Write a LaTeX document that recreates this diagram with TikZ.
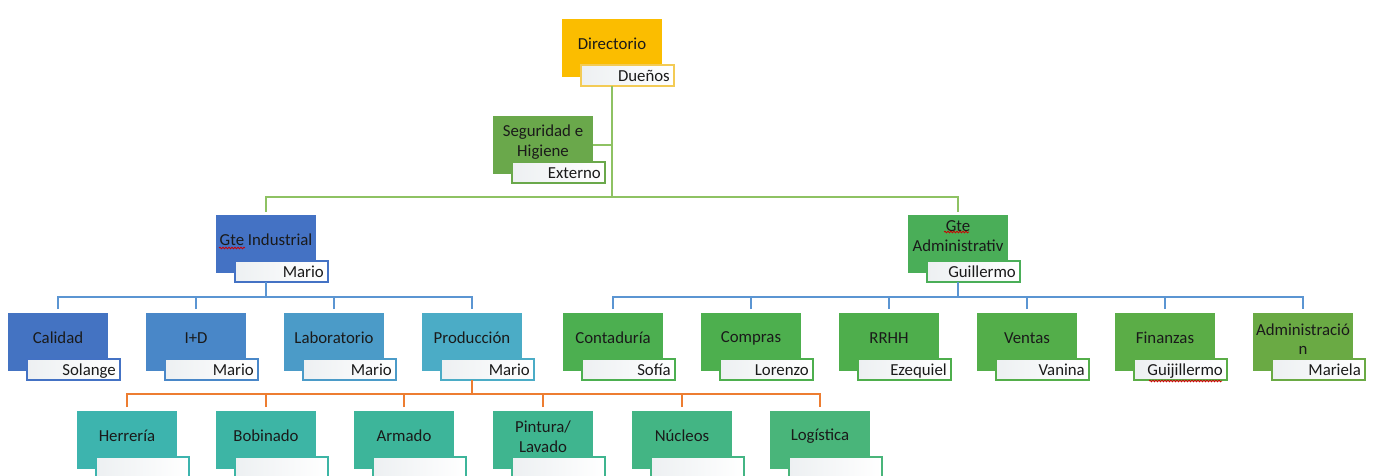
\documentclass[tikz,border=0pt]{standalone}
\usepackage{fontspec}
\setmainfont{Carlito}
\usetikzlibrary{decorations.pathmorphing}
\definecolor{txt}{HTML}{1A1A1A}
\definecolor{subgray}{HTML}{EDF0F2}
\definecolor{cDir}{HTML}{FBBD00}
\definecolor{bDir}{HTML}{F3CB55}
\definecolor{cSeg}{HTML}{6AA84B}
\definecolor{cGI}{HTML}{4472C4}
\definecolor{cCal}{HTML}{4473C2}
\definecolor{cID}{HTML}{4987C8}
\definecolor{cLab}{HTML}{4B9BC8}
\definecolor{cPro}{HTML}{4BACC6}
\definecolor{cHer}{HTML}{3DB4AE}
\definecolor{cBob}{HTML}{3DB5A5}
\definecolor{cArm}{HTML}{3DB59A}
\definecolor{cPin}{HTML}{3FB58F}
\definecolor{cNuc}{HTML}{43B584}
\definecolor{cLog}{HTML}{49B57A}
\definecolor{cGA}{HTML}{4AAE58}
\definecolor{cCon}{HTML}{4CAF50}
\definecolor{cCom}{HTML}{4DAF4E}
\definecolor{cRRH}{HTML}{4EAE4C}
\definecolor{cVen}{HTML}{53AE4A}
\definecolor{cFin}{HTML}{5BAD47}
\definecolor{cAdm}{HTML}{6AAA44}
\definecolor{lgreen}{HTML}{8EC263}
\definecolor{lblue}{HTML}{5B95D2}
\definecolor{lorange}{HTML}{ED7D31}
\newcommand\orgbox[8]{%
  \node[mainbox, fill=#4] (#1) at (#2,#3) {};
  \node[boxlabel] (#1-t) at (#2+50,#3+#8) {#6};
  \node[subbox=#5] (#1-s) at (#2+19,#3+46) {};
  \node[namelabel] (#1-n) at (#2+108,#3+62.5) {#7};
}
\begin{document}
\begin{tikzpicture}[x=1pt,y=-1pt,
  mainbox/.style={draw=none, minimum width=100pt, minimum height=58pt, anchor=north west, inner sep=0pt, outer sep=0pt},
  subbox/.style={draw=#1, line width=1.8pt, left color=subgray, right color=white, minimum width=93pt, minimum height=21pt, anchor=north west, inner sep=0pt, outer sep=0pt},
  boxlabel/.style={font=\fontsize{16.8}{19.5}\selectfont, text=txt, align=center, inner sep=0pt},
  namelabel/.style={font=\fontsize{16.8}{19.5}\selectfont, text=txt, anchor=base east, inner sep=0pt},
  gline/.style={draw=lgreen, line width=2.7pt},
  bline/.style={draw=lblue, line width=2.7pt},
  oline/.style={draw=lorange, line width=2.7pt},
  squig/.style={draw=red!80!black, line width=0.8pt, decorate, decoration={snake, segment length=3pt, amplitude=0.8pt}}]
\useasboundingbox (0,0) rectangle (1374,476);
% top
\orgbox{dir}{562}{19}{cDir}{bDir}{Directorio}{Dueños}{25}
\orgbox{seg}{493}{116}{cSeg}{cSeg}{Seguridad e\\Higiene}{Externo}{26}
% managers
\orgbox{gi}{216}{215}{cGI}{cGI}{Gte Industrial}{Mario}{25}
\orgbox{ga}{908}{215}{cGA}{cGA}{Gte\\Administrativ\\o}{Guillermo}{31}
% industrial row
\orgbox{cal}{8}{313}{cCal}{cGI}{Calidad}{Solange}{25}
\orgbox{id}{146}{313}{cID}{cID}{I+D}{Mario}{25}
\orgbox{lab}{284}{313}{cLab}{cLab}{Laboratorio}{Mario}{25}
\orgbox{pro}{422}{313}{cPro}{cPro}{Producción}{Mario}{25}
% administrative row
\orgbox{con}{563}{313}{cCon}{cCon}{Contaduría}{Sofía}{25}
\orgbox{com}{701}{313}{cCom}{cCom}{Compras}{Lorenzo}{25}
\orgbox{rrh}{839}{313}{cRRH}{cRRH}{RRHH}{Ezequiel}{25}
\orgbox{ven}{977}{313}{cVen}{cVen}{Ventas}{Vanina}{25}
\orgbox{fin}{1115}{313}{cFin}{cFin}{Finanzas}{Guijillermo}{25}
\orgbox{adm}{1253}{313}{cAdm}{cAdm}{Administració\\n}{Mariela}{26}
% production row
\orgbox{her}{77}{411}{cHer}{cHer}{Herrería}{}{25}
\orgbox{bob}{216}{411}{cBob}{cBob}{Bobinado}{}{25}
\orgbox{arm}{354}{411}{cArm}{cArm}{Armado}{}{25}
\orgbox{pin}{493}{411}{cPin}{cPin}{Pintura/\\Lavado}{}{25.5}
\orgbox{nuc}{632}{411}{cNuc}{cNuc}{Núcleos}{}{25}
\orgbox{log}{770}{411}{cLog}{cLog}{Logística}{}{25}
% junctions
\coordinate (j0) at (612,197);
\coordinate (j1) at (266,297);
\coordinate (j2) at (958,297);
\coordinate (j3) at (472,394);
% green connectors
\draw[gline] (dir-s.south -| dir.center) -- (j0);
\draw[gline] (seg.east) -- (seg.east -| j0);
\draw[gline, shorten <=3pt, shorten >=3pt] (gi.north) |- (j0) -| (ga.north);
% blue connectors (industrial)
\draw[bline] (gi-s.south -| gi.center) -- (j1);
\draw[bline, shorten <=4pt, shorten >=4pt] (cal.north) |- (j1) -| (pro.north);
\draw[bline, shorten <=4pt] (id.north) -- (id.north |- j1);
\draw[bline, shorten <=4pt] (lab.north) -- (lab.north |- j1);
% blue connectors (administrative)
\draw[bline] (ga-s.south -| ga.center) -- (j2);
\draw[bline, shorten <=4pt, shorten >=4pt] (con.north) |- (j2) -| (adm.north);
\draw[bline, shorten <=4pt] (com.north) -- (com.north |- j2);
\draw[bline, shorten <=4pt] (rrh.north) -- (rrh.north |- j2);
\draw[bline, shorten <=4pt] (ven.north) -- (ven.north |- j2);
\draw[bline, shorten <=4pt] (fin.north) -- (fin.north |- j2);
% orange connectors (production)
\draw[oline] (pro-s.south -| pro.center) -- (j3);
\draw[oline, shorten <=4pt, shorten >=4pt] (her.north) |- (j3) -| (log.north);
\draw[oline, shorten <=4pt] (bob.north) -- (bob.north |- j3);
\draw[oline, shorten <=4pt] (arm.north) -- (arm.north |- j3);
\draw[oline, shorten <=4pt] (pin.north) -- (pin.north |- j3);
\draw[oline, shorten <=4pt] (nuc.north) -- (nuc.north |- j3);
% spell-check marks
\draw[squig] (219,248) -- (245,248);
\draw[squig] (944,232) -- (969,232);
\draw[squig] (1149,381) -- (1222,381);
\end{tikzpicture}
\end{document}
